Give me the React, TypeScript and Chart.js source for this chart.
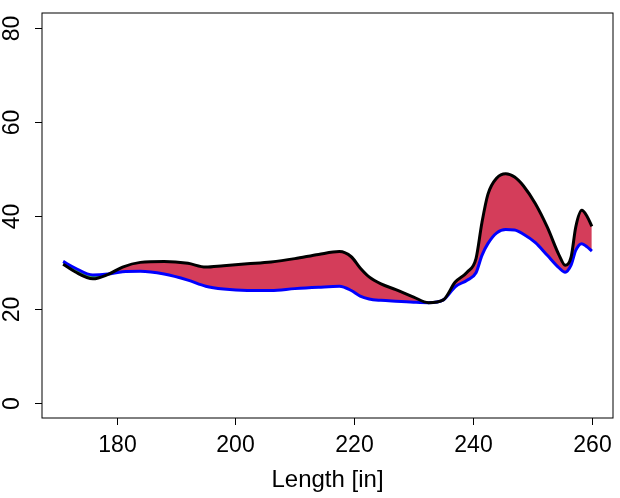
import { useEffect, useRef } from "react";
import { Chart, registerables, Plugin } from "chart.js";

Chart.register(...registerables);

// length along the part [in]
const lengths = [
  171, 173, 176, 178.5, 181, 184, 188, 192, 195, 198, 202, 206, 210, 214, 217.5,
  219.5, 221, 222.5, 224.5, 227, 230, 232.5, 235, 237, 239, 240.5, 241.5, 242.5,
  244, 245.5, 247, 248.5, 250.5, 252.5, 254.5, 255.5, 256.5, 257.3, 258.3, 259.2, 260,
];

// black curve
const upper = [
  29.6, 28.0, 26.5, 27.4, 29.0, 30.0, 30.2, 29.8, 29.0, 29.3, 29.7, 30.1, 30.8, 31.7, 32.3,
  31.2, 28.8, 26.9, 25.4, 24.2, 22.6, 21.4, 22.0, 25.8, 27.9, 30.8, 38.5, 44.5,
  48.0, 48.9, 48.2, 46.3, 42.5, 37.5, 31.5, 29.4, 31.1, 37.6, 41.1, 39.8, 37.7,
];

// blue curve
const lower = [
  30.2, 28.8, 27.3, 27.5, 28.0, 28.1, 27.5, 26.2, 24.9, 24.3, 24.0, 24.0, 24.4, 24.7, 24.9,
  24.0, 22.8, 22.2, 21.9, 21.7, 21.5, 21.4, 22.0, 24.8, 26.2, 27.8, 31.5, 34.0,
  36.3, 37.0, 36.9, 36.0, 34.2, 31.5, 28.8, 27.9, 29.4, 32.6, 34.0, 33.3, 32.4,
];

const xTicks = [180, 200, 220, 240, 260];
const yTicks = [0, 20, 40, 60, 80];
const xLabel = "Length [in]";

const TICK_FONT = "23px 'Liberation Sans', Arial, sans-serif";
const LABEL_FONT = "24px 'Liberation Sans', Arial, sans-serif";

// R style: box, outward ticks, rotated y labels
const baseAxes: Plugin<"line"> = {
  id: "baseAxes",
  afterDraw: (chart) => {
    const { ctx, chartArea } = chart;
    const xs = chart.scales.x;
    const ys = chart.scales.y;
    const tick = 7;
    ctx.save();
    ctx.strokeStyle = "#000";
    ctx.lineWidth = 1;
    ctx.strokeRect(chartArea.left, chartArea.top, chartArea.right - chartArea.left, chartArea.bottom - chartArea.top);

    ctx.fillStyle = "#000";
    ctx.font = TICK_FONT;
    ctx.textAlign = "center";
    ctx.textBaseline = "alphabetic";
    xTicks.forEach((v) => {
      const px = Math.round(xs.getPixelForValue(v)) + 0.5;
      ctx.beginPath();
      ctx.moveTo(px, chartArea.bottom);
      ctx.lineTo(px, chartArea.bottom + tick);
      ctx.stroke();
      ctx.fillText(String(v), px, chartArea.bottom + 34);
    });
    yTicks.forEach((v) => {
      const py = Math.round(ys.getPixelForValue(v)) + 0.5;
      ctx.beginPath();
      ctx.moveTo(chartArea.left, py);
      ctx.lineTo(chartArea.left - tick, py);
      ctx.stroke();
      ctx.save();
      ctx.translate(19, py);
      ctx.rotate(-Math.PI / 2);
      ctx.fillText(String(v), 0, 0);
      ctx.restore();
    });
    ctx.font = LABEL_FONT;
    ctx.fillText(xLabel, (chartArea.left + chartArea.right) / 2, chartArea.bottom + 69);
    ctx.restore();
  },
};

export default function App() {
  const canvasRef = useRef<HTMLCanvasElement | null>(null);

  useEffect(() => {
    if (!canvasRef.current) return;
    const span = lengths[lengths.length - 1] - lengths[0];
    const chart = new Chart(canvasRef.current, {
      type: "line",
      data: {
        datasets: [
          {
            data: lengths.map((x, i) => ({ x, y: lower[i] })),
            borderColor: "#0000FF",
            borderWidth: 3,
            pointRadius: 0,
            cubicInterpolationMode: "monotone",
            fill: false,
            order: 1,
          },
          {
            data: lengths.map((x, i) => ({ x, y: upper[i] })),
            borderColor: "#000000",
            borderWidth: 3,
            pointRadius: 0,
            cubicInterpolationMode: "monotone",
            fill: { target: 0, above: "#D43D5A", below: "#3CB043" },
            order: 0,
          },
        ],
      },
      options: {
        responsive: false,
        animation: false,
        layout: { padding: { top: 13, right: 7, left: 0, bottom: 0 } },
        plugins: {
          legend: { display: false },
          tooltip: { enabled: false },
          filler: { drawTime: "beforeDatasetsDraw" },
        },
        scales: {
          x: {
            type: "linear",
            min: lengths[0] - span * 0.04,
            max: lengths[lengths.length - 1] + span * 0.04,
            grid: { display: false },
            border: { display: false },
            ticks: { display: false },
            afterFit: (s) => {
              s.height = 80;
            },
          },
          y: {
            min: -3.2,
            max: 83.2,
            grid: { display: false },
            border: { display: false },
            ticks: { display: false },
            afterFit: (s) => {
              s.width = 42;
            },
          },
        },
      },
      plugins: [baseAxes],
    });
    return () => chart.destroy();
  }, []);

  return (
    <div style={{ position: "fixed", left: 0, top: 0, width: 620, height: 498, background: "#fff" }}>
      <canvas ref={canvasRef} width={620} height={498} />
    </div>
  );
}
